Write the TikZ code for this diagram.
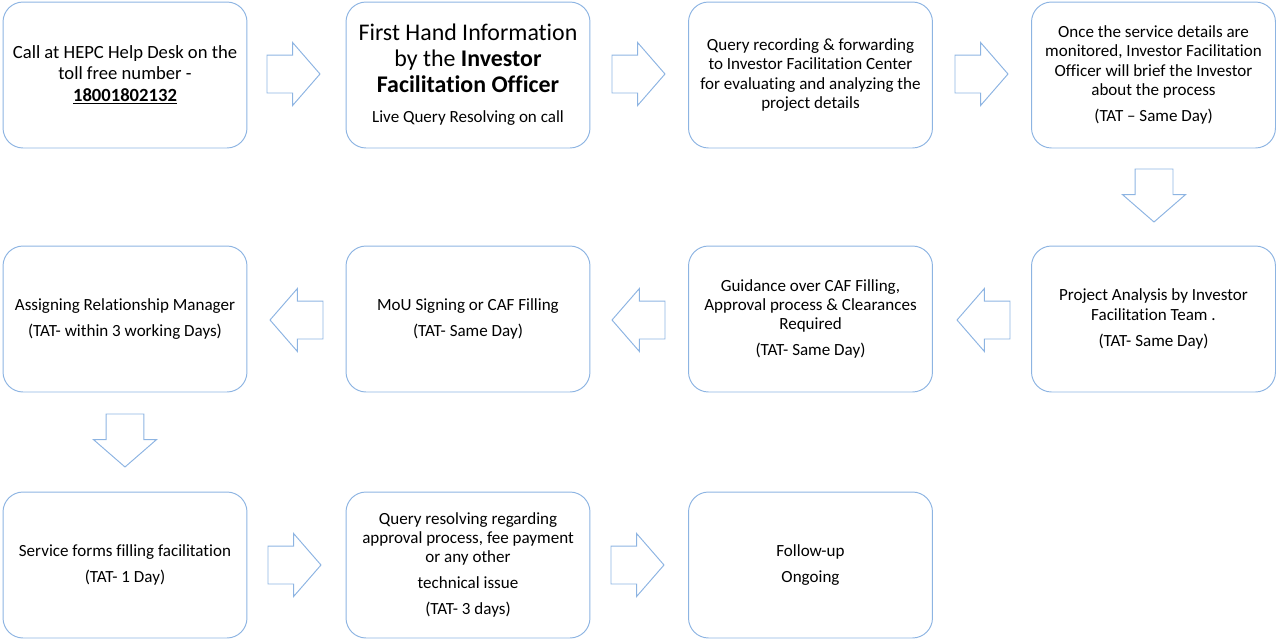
\documentclass[tikz,border=0pt]{standalone}
\usepackage{fontspec}
\setmainfont[Ligatures=NoCommon]{Carlito}
\usetikzlibrary{shapes.arrows}
\definecolor{boxblue}{RGB}{141,180,226}
\newcommand{\bodyfont}{\fontsize{9.7}{10.9}\selectfont}
\newcommand{\titlefont}{\fontsize{13.6}{14.6}\selectfont}
\begin{document}
\begin{tikzpicture}[x=0.02cm, y=-0.02cm, every node/.style={align=center, font=\bodyfont},
                    box/.style={draw=boxblue, line width=0.55pt, rounded corners=0.4cm, minimum width=4.88cm, minimum height=2.92cm, inner sep=2pt},
                    barrow/.style={draw=boxblue, line width=0.55pt, single arrow, single arrow head extend=0.25cm, single arrow tip angle=98,
                      minimum height=1.06cm, inner xsep=0pt, inner ysep=0.37cm, outer sep=0pt, anchor=tail},
                    varrow/.style={barrow, inner xsep=0.37cm, inner ysep=0pt}]
                  \useasboundingbox (0,0) rectangle (1279,640);
                  % first row
                  \node[box, font=\fontsize{10.6}{12.2}\selectfont] (a) at (125,75) {Call at HEPC Help Desk on the\\ toll free number -\\ \textbf{\underline{18001802132}}};
                  \node[box, font=\titlefont] (b) at (468,75) {First Hand Information\\ by the \textbf{Investor}\\ \textbf{Facilitation Officer}\\[3pt] \bodyfont Live Query Resolving on call};
                  \node[box] (c) at (810.5,75) {Query recording \& forwarding\\ to Investor Facilitation Center\\ for evaluating and analyzing the\\ project details};
                  \node[box] (d) at (1153.5,75) {Once the service details are\\ monitored, Investor Facilitation\\ Officer will brief the Investor\\ about the process\\[4pt] (TAT -- Same Day)};
                  % second row
                  \node[box] (e) at (1153.5,319) {Project Analysis by Investor\\ Facilitation Team .\\[4pt] (TAT- Same Day)};
                  \node[box] (f) at (810.5,319) {Guidance over CAF Filling,\\ Approval process \& Clearances\\ Required\\[4pt] (TAT- Same Day)};
                  \node[box] (g) at (468,319) {MoU Signing or CAF Filling\\[4pt] (TAT- Same Day)};
                  \node[box] (h) at (125,319) {Assigning Relationship Manager\\[4pt] (TAT- within 3 working Days)};
                  % third row
                  \node[box] (i) at (125,565) {Service forms filling facilitation\\[4pt] (TAT- 1 Day)};
                  \node[box] (j) at (468,565) {Query resolving regarding\\ approval process, fee payment\\ or any other\\[4pt] technical issue\\[4pt] (TAT- 3 days)};
                  \node[box] (k) at (810.5,565) {Follow-up\\[4pt] Ongoing};
                  % block arrows (placed by their tails)
                  \node[barrow] (ab) at (267,74) {};
                  \node[barrow] (bc) at (612,74) {};
                  \node[barrow] (cd) at (955,74) {};
                  \node[varrow, shape border rotate=270] (de) at (1154,169) {};
                  \node[barrow, shape border rotate=180] (ef) at (1010,320) {};
                  \node[barrow, shape border rotate=180] (fg) at (665,320) {};
                  \node[barrow, shape border rotate=180] (gh) at (323,320) {};
                  \node[varrow, shape border rotate=270] (hi) at (125,414) {};
                  \node[barrow] (ij) at (268,565) {};
                  \node[barrow] (jk) at (611,565) {};
              \end{tikzpicture}
\end{document}
